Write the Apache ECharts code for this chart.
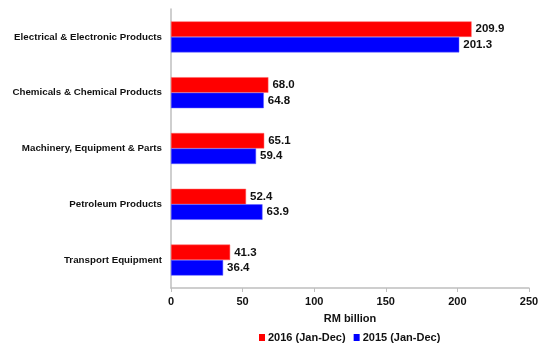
<!DOCTYPE html>
<html><head><meta charset="utf-8">
<script src="https://cdn.jsdelivr.net/npm/echarts@6/dist/echarts.min.js"></script>
<style>html,body{margin:0;padding:0;background:#fff}#c{width:550px;height:350px}</style>
</head><body><div id="c"></div>
<script>
var categories = ['Electrical & Electronic Products','Chemicals & Chemical Products','Machinery, Equipment & Parts','Petroleum Products','Transport Equipment'];
var values2016 = [209.9, 68.0, 65.1, 52.4, 41.3];
var values2015 = [201.3, 64.8, 59.4, 63.9, 36.4];
var xTicks = [0, 50, 100, 150, 200, 250];
var ff = 'Liberation Sans, Arial, sans-serif';
var chart = echarts.init(document.getElementById('c'));
var lbl = {show:true, position:'right', distance:4, color:'#111', fontFamily:ff, fontWeight:'bold', fontSize:11.5, formatter:function(p){return p.value.toFixed(1);}};
chart.setOption({
  animation:false,
  grid:{left:171, right:21, top:9, bottom:62},
  legend:{top:327, left:254, itemWidth:6, itemHeight:7, itemGap:8, icon:'rect',
    itemStyle:{borderWidth:0},
    textStyle:{fontFamily:ff, fontWeight:'bold', fontSize:11, color:'#111', padding:[0,0,0,-2]},
    data:['2016 (Jan-Dec)','2015 (Jan-Dec)']},
  xAxis:{type:'value', min:xTicks[0], max:xTicks[xTicks.length-1], interval:50,
    name:'RM billion', nameLocation:'middle', nameGap:25,
    nameTextStyle:{fontFamily:ff, fontWeight:'bold', fontSize:11, color:'#111'},
    axisLine:{show:true, lineStyle:{color:'#bfbfbf', width:1.5}},
    axisTick:{show:true, length:4, lineStyle:{color:'#bfbfbf'}},
    splitLine:{show:false},
    axisLabel:{fontFamily:ff, fontWeight:'bold', fontSize:11, color:'#111', margin:8}},
  yAxis:{type:'category', data:categories, inverse:true,
    axisLine:{show:true, lineStyle:{color:'#bfbfbf', width:1.5}},
    axisTick:{show:false},
    axisLabel:{fontFamily:ff, fontWeight:'bold', fontSize:9.75, color:'#111', margin:9}},
  series:[
    {name:'2016 (Jan-Dec)', type:'bar', data:values2016, barWidth:15.5, barGap:'0%',
      itemStyle:{color:'#ff0000', borderColor:'#ff6060', borderWidth:0.5}, label:lbl},
    {name:'2015 (Jan-Dec)', type:'bar', data:values2015, barWidth:15.5, barGap:'0%',
      itemStyle:{color:'#0000ff', borderColor:'#6060ff', borderWidth:0.5}, label:lbl}
  ]
});
</script></body></html>
